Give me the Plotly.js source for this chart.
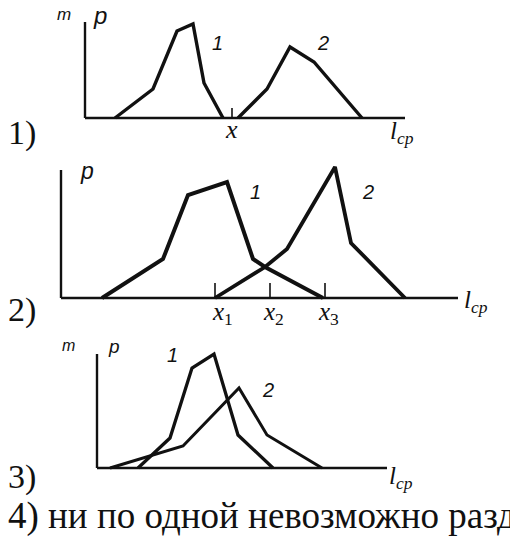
<!DOCTYPE html>
<html><head><meta charset="utf-8">
<script src="https://cdn.plot.ly/plotly-3.0.1.min.js"></script>
<style>html,body{margin:0;padding:0;background:#fff;overflow:hidden}</style>
</head><body><div id="chart" style="width:510px;height:539px"></div>
<script>
// ---- Panel 1 (values in arbitrary l_cp / p units) ----
const p1_curve1_x = [3.0, 6.8, 9.2, 10.8, 11.9, 13.8];
const p1_curve1_y = [0, 2.9, 8.7, 9.4, 3.5, 0];
const p1_curve2_x = [15.3, 18.2, 20.5, 22.9, 27.7];
const p1_curve2_y = [0, 2.9, 7.1, 5.6, 0];
const p1_tick_x = [14.7];
const p1_tick_labels = ['<i>x</i>'];
const p1_axis = {xEnd: 32, yTop: 9.6};

// ---- Panel 2 ----
const p2_curve1_x = [4.1, 10.2, 12.7, 16.6, 19.2, 20.4, 26.2];
const p2_curve1_y = [0, 3.9, 10.3, 11.6, 3.9, 3.1, 0];
const p2_curve2_x = [15.4, 20.4, 22.6, 27.4, 29.0, 34.4];
const p2_curve2_y = [0, 3.1, 4.9, 13.1, 5.5, 0];
const p2_tick_x = [15.4, 20.9, 26.4];
const p2_tick_labels = ['<i>x</i><sub>1</sub>', '<i>x</i><sub>2</sub>', '<i>x</i><sub>3</sub>'];
const p2_axis = {xEnd: 39.7, yTop: 12.8};

// ---- Panel 3 ----
const p3_curve1_x = [4.1, 7.3, 9.5, 11.7, 14.1, 17.6];
const p3_curve1_y = [0, 3.0, 10.0, 11.4, 3.3, 0];
const p3_curve2_x = [1.3, 8.6, 14.2, 17.0, 22.5];
const p3_curve2_y = [0, 2.2, 8.0, 3.3, 0];
const p3_axis = {xEnd: 29.0, yTop: 11.4};

const curve_labels = ['1', '2'];
const panel_labels = ['1)', '2)', '3)'];
const answer4 = '4) ни по одной невозможно разд';
const axis_x_label = '<i>l</i><sub><i>cp</i></sub>';

const W = 510, H = 539, UNIT = 10; // 10 px per data unit
const INK = '#111111';

function domains(origin, xr, yr) {
  return {
    x: [(origin[0] + UNIT * xr[0]) / W, (origin[0] + UNIT * xr[1]) / W],
    y: [1 - (origin[1] - UNIT * yr[0]) / H, 1 - (origin[1] - UNIT * yr[1]) / H]
  };
}
const panels = [
  {origin: [85, 118], xr: [-1, 33], yr: [-1, 10]},
  {origin: [61, 298], xr: [-1, 41], yr: [-1, 13.6]},
  {origin: [97, 468], xr: [-1, 30], yr: [-1, 12]}
];

const layout = {
  width: W, height: H, margin: {l: 0, r: 0, t: 0, b: 0},
  paper_bgcolor: '#fff', plot_bgcolor: 'rgba(0,0,0,0)', showlegend: false,
  shapes: [], annotations: []
};
panels.forEach((p, i) => {
  const d = domains(p.origin, p.xr, p.yr);
  const s = i === 0 ? '' : String(i + 1);
  layout['xaxis' + s] = {domain: d.x, range: p.xr, visible: false, anchor: 'y' + s, fixedrange: true};
  layout['yaxis' + s] = {domain: d.y, range: p.yr, visible: false, anchor: 'x' + s, fixedrange: true};
});

function axes(s, ax) {
  layout.shapes.push({type: 'line', xref: 'x' + s, yref: 'y' + s, x0: 0, x1: ax.xEnd, y0: 0, y1: 0, line: {color: INK, width: 2.4}});
  layout.shapes.push({type: 'line', xref: 'x' + s, yref: 'y' + s, x0: 0, x1: 0, y0: 0, y1: ax.yTop, line: {color: INK, width: 2.4}});
}
axes('', p1_axis); axes('2', p2_axis); axes('3', p3_axis);
p1_tick_x.forEach(t => layout.shapes.push({type: 'line', xref: 'x', yref: 'y', x0: t, x1: t, y0: 0, y1: 1.0, line: {color: INK, width: 1.6}}));
p2_tick_x.forEach(t => layout.shapes.push({type: 'line', xref: 'x2', yref: 'y2', x0: t, x1: t, y0: 0, y1: 1.5, line: {color: INK, width: 1.6}}));

function T(text, px, py, size, family, xanchor) {
  layout.annotations.push({text: text, xref: 'paper', yref: 'paper', x: px / W, y: 1 - py / H,
    xanchor: xanchor || 'center', yanchor: 'middle', showarrow: false,
    font: {size: size, family: family, color: INK}});
}
const SANS = 'Liberation Sans, Arial, sans-serif';
const SERIF = 'Liberation Serif, Times New Roman, serif';

// panel 1 texts
T('<i>m</i>', 64, 14, 17, SANS); T('<i>p</i>', 100, 15, 24, SANS);
T('<i>' + curve_labels[0] + '</i>', 217, 43, 20, SANS); T('<i>' + curve_labels[1] + '</i>', 323, 43, 20, SANS);
T(p1_tick_labels[0], 231, 129, 26, SERIF);
T(axis_x_label, 388, 132, 25, SERIF, 'left');
T(panel_labels[0], 22, 133, 34, SERIF);
// panel 2 texts
T('<i>p</i>', 87, 171, 23, SANS);
T('<i>' + curve_labels[0] + '</i>', 255, 192, 20, SANS); T('<i>' + curve_labels[1] + '</i>', 368, 192, 20, SANS);
const p2_label_px = [222, 273, 328];
p2_tick_labels.forEach((t, k) => T(t, p2_label_px[k], 313, 25, SERIF));
T(axis_x_label, 462, 301, 25, SERIF, 'left');
T(panel_labels[1], 22, 310, 34, SERIF);
// panel 3 texts
T('<i>m</i>', 68, 345, 16, SANS); T('<i>p</i>', 114, 346, 19, SANS);
T('<i>' + curve_labels[0] + '</i>', 172, 355, 20, SANS); T('<i>' + curve_labels[1] + '</i>', 268, 390, 20, SANS);
T(axis_x_label, 387, 477, 25, SERIF, 'left');
T(panel_labels[2], 22, 477, 34, SERIF);
T(answer4, 6, 516, 37, SERIF, 'left');

function line(x, y, s, w) {
  return {type: 'scatter', mode: 'lines', x: x, y: y, xaxis: 'x' + s, yaxis: 'y' + s,
    line: {color: INK, width: w}, hoverinfo: 'skip'};
}
const data = [
  line(p1_curve1_x, p1_curve1_y, '', 3.4), line(p1_curve2_x, p1_curve2_y, '', 3.4),
  line(p2_curve1_x, p2_curve1_y, '2', 4), line(p2_curve2_x, p2_curve2_y, '2', 3.8),
  line(p3_curve1_x, p3_curve1_y, '3', 3.3), line(p3_curve2_x, p3_curve2_y, '3', 3)
];
Plotly.newPlot('chart', data, layout, {staticPlot: true, displayModeBar: false});
</script></body></html>
